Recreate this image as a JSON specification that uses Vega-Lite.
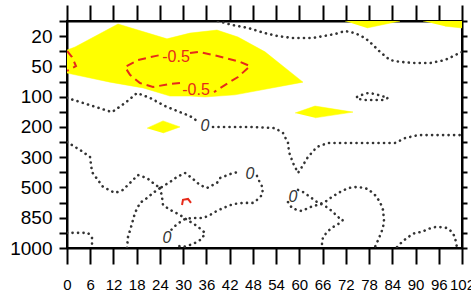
{
  "$schema": "https://vega.github.io/schema/vega-lite/v6.json",
  "width": 395,
  "height": 227,
  "autosize": {"type": "none"},
  "padding": {"left": 67, "top": 21, "right": 9, "bottom": 45},
  "background": "white",
  "config": {
    "view": {"stroke": "black", "strokeWidth": 2},
    "axis": {"domainColor": "black", "domainWidth": 2, "tickColor": "black", "tickWidth": 2, "grid": false, "title": null, "labelColor": "black", "labelFont": "Liberation Sans", "labelOverlap": false, "labelBound": false, "labelFlush": false}
  },
  "datasets": {
    "fills": [
      {"p": "a", "i": 0, "x": 0, "y": 6.54}, {"p": "a", "i": 1, "x": 2.07, "y": 6.64}, {"p": "a", "i": 2, "x": 13.17, "y": 7.4}, {"p": "a", "i": 3, "x": 25.82, "y": 6.91}, {"p": "a", "i": 4, "x": 31.76, "y": 7.1}, {"p": "a", "i": 5, "x": 38.73, "y": 7.2}, {"p": "a", "i": 6, "x": 44.16, "y": 6.97}, {"p": "a", "i": 7, "x": 51.13, "y": 6.48}, {"p": "a", "i": 8, "x": 60.94, "y": 5.48}, {"p": "a", "i": 9, "x": 43.38, "y": 5.06}, {"p": "a", "i": 10, "x": 35.64, "y": 4.99}, {"p": "a", "i": 11, "x": 31.76, "y": 5.02}, {"p": "a", "i": 12, "x": 26.6, "y": 5.02}, {"p": "a", "i": 13, "x": 19.63, "y": 5.29}, {"p": "a", "i": 14, "x": 11.1, "y": 5.48}, {"p": "a", "i": 15, "x": 0, "y": 5.78},
      {"p": "b", "i": 0, "x": 20.66, "y": 3.96}, {"p": "b", "i": 1, "x": 24.79, "y": 4.2}, {"p": "b", "i": 2, "x": 29.18, "y": 4.0}, {"p": "b", "i": 3, "x": 24.79, "y": 3.8},
      {"p": "c", "i": 0, "x": 58.88, "y": 4.46}, {"p": "c", "i": 1, "x": 64.04, "y": 4.69}, {"p": "c", "i": 2, "x": 73.85, "y": 4.49}, {"p": "c", "i": 3, "x": 64.04, "y": 4.3},
      {"p": "d", "i": 0, "x": 71.79, "y": 7.5}, {"p": "d", "i": 1, "x": 85.99, "y": 7.5}, {"p": "d", "i": 2, "x": 77.47, "y": 7.27},
      {"p": "e", "i": 0, "x": 91.93, "y": 7.5}, {"p": "e", "i": 1, "x": 102, "y": 7.5}, {"p": "e", "i": 2, "x": 102, "y": 7.27}, {"p": "e", "i": 3, "x": 97.61, "y": 7.33}
    ],
    "red": [
      {"s": "r1", "i": 0, "x": 0, "y": 6.51}, {"s": "r1", "i": 1, "x": 1.29, "y": 6.31}, {"s": "r1", "i": 2, "x": 2.32, "y": 6.01}, {"s": "r1", "i": 3, "x": 0, "y": 5.85},
      {"s": "r2", "i": 0, "x": 31.76, "y": 6.44}, {"s": "r2", "i": 1, "x": 33.83, "y": 6.48}, {"s": "r2", "i": 2, "x": 37.7, "y": 6.38}, {"s": "r2", "i": 3, "x": 40.8, "y": 6.28}, {"s": "r2", "i": 4, "x": 44.67, "y": 6.15}, {"s": "r2", "i": 5, "x": 47.26, "y": 6.01}, {"s": "r2", "i": 6, "x": 44.16, "y": 5.65}, {"s": "r2", "i": 7, "x": 41.57, "y": 5.45}, {"s": "r2", "i": 8, "x": 37.96, "y": 5.15},
      {"s": "r3", "i": 0, "x": 29.18, "y": 5.45}, {"s": "r3", "i": 1, "x": 26.6, "y": 5.42}, {"s": "r3", "i": 2, "x": 22.21, "y": 5.32}, {"s": "r3", "i": 3, "x": 18.85, "y": 5.45}, {"s": "r3", "i": 4, "x": 16.27, "y": 5.72}, {"s": "r3", "i": 5, "x": 14.98, "y": 5.98}, {"s": "r3", "i": 6, "x": 18.33, "y": 6.21}, {"s": "r3", "i": 7, "x": 22.72, "y": 6.34}, {"s": "r3", "i": 8, "x": 23.9, "y": 6.37}
    ],
    "redsmall": [
      {"s": "r4", "i": 0, "x": 29.7, "y": 1.42}, {"s": "r4", "i": 1, "x": 29.95, "y": 1.59}, {"s": "r4", "i": 2, "x": 31.25, "y": 1.62}, {"s": "r4", "i": 3, "x": 32.02, "y": 1.49}
    ],
    "dots": [
      {"s": "A1", "i": 0, "x": 0, "y": 4.96}, {"s": "A1", "i": 1, "x": 5.94, "y": 4.72}, {"s": "A1", "i": 2, "x": 11.62, "y": 4.49}, {"s": "A1", "i": 3, "x": 14.98, "y": 4.79}, {"s": "A1", "i": 4, "x": 18.08, "y": 5.12}, {"s": "A1", "i": 5, "x": 21.43, "y": 4.96}, {"s": "A1", "i": 6, "x": 25.31, "y": 4.69}, {"s": "A1", "i": 7, "x": 29.18, "y": 4.49}, {"s": "A1", "i": 8, "x": 31.76, "y": 4.36}, {"s": "A1", "i": 9, "x": 33.57, "y": 4.2},
      {"s": "A2", "i": 0, "x": 37.7, "y": 4.0}, {"s": "A2", "i": 1, "x": 47.26, "y": 4.0}, {"s": "A2", "i": 2, "x": 53.71, "y": 3.96}, {"s": "A2", "i": 3, "x": 55.78, "y": 3.8}, {"s": "A2", "i": 4, "x": 57.07, "y": 3.47}, {"s": "A2", "i": 5, "x": 57.33, "y": 3.17}, {"s": "A2", "i": 6, "x": 58.36, "y": 2.81}, {"s": "A2", "i": 7, "x": 59.65, "y": 2.48}, {"s": "A2", "i": 8, "x": 60.68, "y": 2.68}, {"s": "A2", "i": 9, "x": 62.23, "y": 3.01}, {"s": "A2", "i": 10, "x": 64.56, "y": 3.34}, {"s": "A2", "i": 11, "x": 67.4, "y": 3.47}, {"s": "A2", "i": 12, "x": 79.53, "y": 3.47}, {"s": "A2", "i": 13, "x": 84.7, "y": 3.47}, {"s": "A2", "i": 14, "x": 87.28, "y": 3.63}, {"s": "A2", "i": 15, "x": 90.64, "y": 3.73}, {"s": "A2", "i": 16, "x": 102, "y": 3.73},
      {"s": "E", "i": 0, "x": 38.99, "y": 7.5}, {"s": "E", "i": 1, "x": 42.61, "y": 7.37}, {"s": "E", "i": 2, "x": 46.74, "y": 7.27}, {"s": "E", "i": 3, "x": 51.13, "y": 7.1}, {"s": "E", "i": 4, "x": 54.49, "y": 7.0}, {"s": "E", "i": 5, "x": 58.1, "y": 6.94}, {"s": "E", "i": 6, "x": 63.52, "y": 6.94}, {"s": "E", "i": 7, "x": 69.21, "y": 7.07}, {"s": "E", "i": 8, "x": 71.79, "y": 7.17}, {"s": "E", "i": 9, "x": 74.37, "y": 7.1}, {"s": "E", "i": 10, "x": 76.95, "y": 6.94}, {"s": "E", "i": 11, "x": 78.76, "y": 6.74}, {"s": "E", "i": 12, "x": 80.83, "y": 6.48}, {"s": "E", "i": 13, "x": 83.41, "y": 6.21}, {"s": "E", "i": 14, "x": 85.99, "y": 6.15}, {"s": "E", "i": 15, "x": 89.86, "y": 6.11}, {"s": "E", "i": 16, "x": 93.74, "y": 6.11}, {"s": "E", "i": 17, "x": 97.61, "y": 6.21}, {"s": "E", "i": 18, "x": 102, "y": 6.48},
      {"s": "L", "i": 0, "x": 74.89, "y": 4.99}, {"s": "L", "i": 1, "x": 76.18, "y": 5.06}, {"s": "L", "i": 2, "x": 77.73, "y": 5.12}, {"s": "L", "i": 3, "x": 79.53, "y": 5.09}, {"s": "L", "i": 4, "x": 81.34, "y": 5.02}, {"s": "L", "i": 5, "x": 82.89, "y": 4.96}, {"s": "L", "i": 6, "x": 81.6, "y": 4.89}, {"s": "L", "i": 7, "x": 79.53, "y": 4.89}, {"s": "L", "i": 8, "x": 77.21, "y": 4.89}, {"s": "L", "i": 9, "x": 75.4, "y": 4.92}, {"s": "L", "i": 10, "x": 74.89, "y": 4.99},
      {"s": "B1a", "i": 0, "x": 0, "y": 3.5}, {"s": "B1a", "i": 1, "x": 3.36, "y": 3.24}, {"s": "B1a", "i": 2, "x": 5.94, "y": 3.01}, {"s": "B1a", "i": 3, "x": 6.46, "y": 2.51}, {"s": "B1a", "i": 4, "x": 9.3, "y": 2.02}, {"s": "B1a", "i": 5, "x": 12.4, "y": 1.82}, {"s": "B1a", "i": 6, "x": 14.46, "y": 1.92}, {"s": "B1a", "i": 7, "x": 16.27, "y": 2.15}, {"s": "B1a", "i": 8, "x": 18.33, "y": 2.41}, {"s": "B1a", "i": 9, "x": 20.66, "y": 2.31}, {"s": "B1a", "i": 10, "x": 22.21, "y": 2.15}, {"s": "B1a", "i": 11, "x": 24.02, "y": 1.98}, {"s": "B1a", "i": 12, "x": 26.6, "y": 2.18}, {"s": "B1a", "i": 13, "x": 28.41, "y": 2.35}, {"s": "B1a", "i": 14, "x": 30.47, "y": 2.48}, {"s": "B1a", "i": 15, "x": 32.28, "y": 2.31}, {"s": "B1a", "i": 16, "x": 34.34, "y": 2.08}, {"s": "B1a", "i": 17, "x": 36.15, "y": 1.98}, {"s": "B1a", "i": 18, "x": 38.73, "y": 2.15}, {"s": "B1a", "i": 19, "x": 39.51, "y": 2.31}, {"s": "B1a", "i": 20, "x": 42.87, "y": 2.48}, {"s": "B1a", "i": 21, "x": 44.68, "y": 2.51},
      {"s": "B1b", "i": 0, "x": 49.06, "y": 2.38}, {"s": "B1b", "i": 1, "x": 49.84, "y": 2.15}, {"s": "B1b", "i": 2, "x": 50.61, "y": 1.98}, {"s": "B1b", "i": 3, "x": 50.35, "y": 1.75}, {"s": "B1b", "i": 4, "x": 49.06, "y": 1.59}, {"s": "B1b", "i": 5, "x": 48.03, "y": 1.49}, {"s": "B1b", "i": 6, "x": 45.45, "y": 1.49}, {"s": "B1b", "i": 7, "x": 42.87, "y": 1.45}, {"s": "B1b", "i": 8, "x": 40.28, "y": 1.32}, {"s": "B1b", "i": 9, "x": 38.22, "y": 1.19}, {"s": "B1b", "i": 10, "x": 36.93, "y": 1.09}, {"s": "B1b", "i": 11, "x": 35.12, "y": 0.99}, {"s": "B1b", "i": 12, "x": 32.54, "y": 0.99}, {"s": "B1b", "i": 13, "x": 30.47, "y": 0.96}, {"s": "B1b", "i": 14, "x": 28.41, "y": 0.79}, {"s": "B1b", "i": 15, "x": 26.86, "y": 0.59},
      {"s": "B2", "i": 0, "x": 24.02, "y": 1.98}, {"s": "B2", "i": 1, "x": 24.53, "y": 1.69}, {"s": "B2", "i": 2, "x": 24.79, "y": 1.42}, {"s": "B2", "i": 3, "x": 26.6, "y": 1.26}, {"s": "B2", "i": 4, "x": 29.18, "y": 1.09}, {"s": "B2", "i": 5, "x": 30.99, "y": 0.93}, {"s": "B2", "i": 6, "x": 33.57, "y": 0.73}, {"s": "B2", "i": 7, "x": 35.64, "y": 0.5}, {"s": "B2", "i": 8, "x": 34.86, "y": 0.3}, {"s": "B2", "i": 9, "x": 32.54, "y": 0.13}, {"s": "B2", "i": 10, "x": 29.95, "y": 0.03}, {"s": "B2", "i": 11, "x": 27.89, "y": 0.1},
      {"s": "B4", "i": 0, "x": 15.49, "y": 0}, {"s": "B4", "i": 1, "x": 15.75, "y": 0.36}, {"s": "B4", "i": 2, "x": 16.53, "y": 0.69}, {"s": "B4", "i": 3, "x": 17.56, "y": 1.16}, {"s": "B4", "i": 4, "x": 18.85, "y": 1.49}, {"s": "B4", "i": 5, "x": 20.66, "y": 1.65}, {"s": "B4", "i": 6, "x": 22.21, "y": 1.82}, {"s": "B4", "i": 7, "x": 24.02, "y": 1.98},
      {"s": "LB", "i": 0, "x": 0, "y": 0.5}, {"s": "LB", "i": 1, "x": 5.42, "y": 0.5}, {"s": "LB", "i": 2, "x": 6.46, "y": 0.33}, {"s": "LB", "i": 3, "x": 6.46, "y": 0},
      {"s": "C1", "i": 0, "x": 59.65, "y": 1.92}, {"s": "C1", "i": 1, "x": 60.94, "y": 1.85}, {"s": "C1", "i": 2, "x": 62.75, "y": 1.69}, {"s": "C1", "i": 3, "x": 64.56, "y": 1.52}, {"s": "C1", "i": 4, "x": 67.14, "y": 1.35}, {"s": "C1", "i": 5, "x": 68.69, "y": 1.19}, {"s": "C1", "i": 6, "x": 69.98, "y": 1.02}, {"s": "C1", "i": 7, "x": 71.27, "y": 0.93}, {"s": "C1", "i": 8, "x": 70.5, "y": 0.83}, {"s": "C1", "i": 9, "x": 68.69, "y": 0.69}, {"s": "C1", "i": 10, "x": 67.4, "y": 0.56}, {"s": "C1", "i": 11, "x": 66.11, "y": 0.36}, {"s": "C1", "i": 12, "x": 65.85, "y": 0.17}, {"s": "C1", "i": 13, "x": 65.85, "y": 0},
      {"s": "C2", "i": 0, "x": 57.07, "y": 1.52}, {"s": "C2", "i": 1, "x": 58.1, "y": 1.32}, {"s": "C2", "i": 2, "x": 59.39, "y": 1.26}, {"s": "C2", "i": 3, "x": 60.68, "y": 1.22}, {"s": "C2", "i": 4, "x": 62.75, "y": 1.35}, {"s": "C2", "i": 5, "x": 64.56, "y": 1.42}, {"s": "C2", "i": 6, "x": 66.62, "y": 1.52}, {"s": "C2", "i": 7, "x": 68.43, "y": 1.69}, {"s": "C2", "i": 8, "x": 70.5, "y": 1.85}, {"s": "C2", "i": 9, "x": 72.56, "y": 1.98}, {"s": "C2", "i": 10, "x": 75.14, "y": 2.02}, {"s": "C2", "i": 11, "x": 77.73, "y": 1.95}, {"s": "C2", "i": 12, "x": 79.53, "y": 1.75}, {"s": "C2", "i": 13, "x": 80.83, "y": 1.52}, {"s": "C2", "i": 14, "x": 81.6, "y": 1.26}, {"s": "C2", "i": 15, "x": 81.86, "y": 0.93}, {"s": "C2", "i": 16, "x": 81.6, "y": 0.66}, {"s": "C2", "i": 17, "x": 80.57, "y": 0.33}, {"s": "C2", "i": 18, "x": 79.53, "y": 0.03},
      {"s": "D", "i": 0, "x": 85.22, "y": 0.03}, {"s": "D", "i": 1, "x": 86.51, "y": 0.2}, {"s": "D", "i": 2, "x": 88.06, "y": 0.36}, {"s": "D", "i": 3, "x": 89.86, "y": 0.5}, {"s": "D", "i": 4, "x": 91.67, "y": 0.53}, {"s": "D", "i": 5, "x": 93.22, "y": 0.63}, {"s": "D", "i": 6, "x": 95.03, "y": 0.69}, {"s": "D", "i": 7, "x": 96.32, "y": 0.69}, {"s": "D", "i": 8, "x": 98.13, "y": 0.66}, {"s": "D", "i": 9, "x": 99.42, "y": 0.53}, {"s": "D", "i": 10, "x": 100.19, "y": 0.36}, {"s": "D", "i": 11, "x": 100.45, "y": 0.17}, {"s": "D", "i": 12, "x": 100.71, "y": 0.03}
    ],
    "zerolabels": [
      {"x": 35.64, "y": 4.03, "t": "0"}, {"x": 47.26, "y": 2.44, "t": "0"}, {"x": 58.36, "y": 1.69, "t": "0"}, {"x": 25.82, "y": 0.33, "t": "0"}
    ],
    "redlabels": [
      {"x": 28.15, "y": 6.31, "t": "-0.5"}, {"x": 33.31, "y": 5.22, "t": "-0.5"}
    ]
  },
  "layer": [
    {
      "data": {"name": "fills"},
      "mark": {"type": "line", "fill": "#ffff00", "stroke": "#ffff00", "strokeWidth": 0.5, "clip": true},
      "encoding": {
        "x": {"field": "x", "type": "quantitative", "scale": {"domain": [0, 102], "nice": false, "zero": false},
          "axis": {"orient": "bottom", "values": [0, 6, 12, 18, 24, 30, 36, 42, 48, 54, 60, 66, 72, 78, 84, 90, 96, 102], "tickSize": 16, "labelFontSize": 15, "labelPadding": 13}},
        "y": {"field": "y", "type": "quantitative", "scale": {"domain": [0, 7.5], "nice": false, "zero": false},
          "axis": {"orient": "left", "values": [0, 0.5, 1, 1.5, 2, 2.5, 3, 3.5, 4, 4.5, 5, 5.5, 6, 6.5, 7, 7.5], "tickSize": 8, "labelFontSize": 19, "labelPadding": 7, "labelExpr": "['1000','850','500','300','200','100','50','20'][datum.value] || ''"}},
        "detail": {"field": "p"},
        "order": {"field": "i", "type": "quantitative"}
      }
    },
    {
      "data": {"name": "dots"},
      "mark": {"type": "line", "stroke": "#333333", "strokeWidth": 2.6, "strokeDash": [0.1, 5.4], "strokeCap": "round", "clip": true},
      "encoding": {
        "x": {"field": "x", "type": "quantitative", "scale": {"domain": [0, 102], "nice": false, "zero": false},
          "axis": {"orient": "top", "values": [0, 6, 12, 18, 24, 30, 36, 42, 48, 54, 60, 66, 72, 78, 84, 90, 96, 102], "tickSize": 16, "labels": false}},
        "y": {"field": "y", "type": "quantitative", "scale": {"domain": [0, 7.5], "nice": false, "zero": false},
          "axis": {"orient": "right", "values": [0, 0.5, 1, 1.5, 2, 2.5, 3, 3.5, 4, 4.5, 5, 5.5, 6, 6.5, 7, 7.5], "tickSize": 5, "labels": false}},
        "detail": {"field": "s"},
        "order": {"field": "i", "type": "quantitative"}
      }
    },
    {
      "data": {"name": "red"},
      "mark": {"type": "line", "stroke": "#e62a1a", "strokeWidth": 2, "strokeDash": [8, 5], "clip": true},
      "encoding": {
        "x": {"field": "x", "type": "quantitative", "axis": null},
        "y": {"field": "y", "type": "quantitative", "axis": null},
        "detail": {"field": "s"},
        "order": {"field": "i", "type": "quantitative"}
      }
    },
    {
      "data": {"name": "redsmall"},
      "mark": {"type": "line", "stroke": "#e62a1a", "strokeWidth": 2, "clip": true},
      "encoding": {
        "x": {"field": "x", "type": "quantitative", "axis": null},
        "y": {"field": "y", "type": "quantitative", "axis": null},
        "detail": {"field": "s"},
        "order": {"field": "i", "type": "quantitative"}
      }
    },
    {
      "data": {"name": "zerolabels"},
      "mark": {"type": "text", "font": "Liberation Sans", "fontSize": 16, "fontStyle": "italic", "color": "#333333", "align": "center", "baseline": "middle"},
      "encoding": {
        "x": {"field": "x", "type": "quantitative", "axis": null},
        "y": {"field": "y", "type": "quantitative", "axis": null},
        "text": {"field": "t"}
      }
    },
    {
      "data": {"name": "redlabels"},
      "mark": {"type": "text", "font": "Liberation Sans", "fontSize": 16, "color": "#e62a1a", "align": "center", "baseline": "middle"},
      "encoding": {
        "x": {"field": "x", "type": "quantitative", "axis": null},
        "y": {"field": "y", "type": "quantitative", "axis": null},
        "text": {"field": "t"}
      }
    }
  ],
  "resolve": {"axis": {"x": "independent", "y": "independent"}}
}
